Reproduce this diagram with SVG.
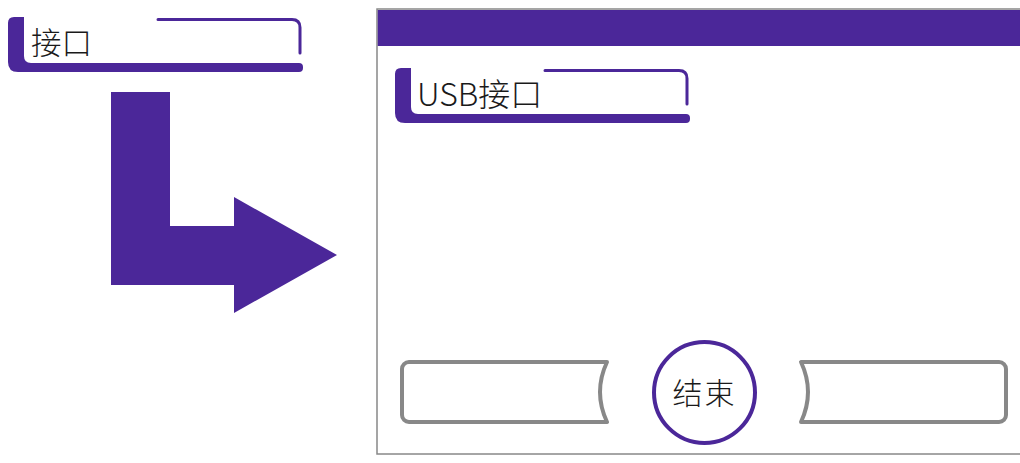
<svg xmlns="http://www.w3.org/2000/svg" width="1020" height="463" viewBox="0 0 1020 463">
<style>
.lab{font-family:"Noto Sans CJK SC","Noto Sans",sans-serif;font-size:30.5px;font-weight:300;fill:#1a1a1a}
.pf{fill:#4b2799}
.ps{fill:none;stroke:#4b2799;stroke-width:3;stroke-linecap:round}
.tab{fill:#fff;stroke:#888;stroke-width:4;stroke-linejoin:round}
</style>
<defs>
<g id="bracket">
<path class="pf" d="M14,17 H24 V56 Q24,63 31,63 H299 Q303,63 303,67 V68 Q303,72 299,72 H18 Q8,72 8,62 V23 Q8,17 14,17 Z"/>
<path class="ps" d="M158,19.5 H292 Q300,19.5 300,27.5 V53"/>
</g>
</defs>
<rect width="1020" height="463" fill="#fff"/>
<g id="panel">
<rect x="377" y="9" width="660" height="445" fill="#fff" stroke="#888" stroke-width="1.5"/>
<rect x="377.75" y="10" width="650" height="36" class="pf"/>
</g>
<g id="node-interface">
<use href="#bracket"/>
<text class="lab" x="31" y="53.5">接口</text>
</g>
<g id="connectors">
<polygon class="pf" points="111,92 170,92 170,226 234,226 234,197 337,255 234,313 234,285 111,285"/>
</g>
<g id="node-usb">
<use href="#bracket" transform="translate(387,51)"/>
<text class="lab" x="417" y="106" style="font-size:32px">USB接口</text>
</g>
<g id="node-left-tab">
<path class="tab" d="M409,362 H607 Q593,392 607,422 H409 A7,7 0 0 1 402,415 V369 A7,7 0 0 1 409,362 Z"/>
</g>
<g id="node-end">
<circle cx="704.5" cy="392.5" r="50.5" fill="#fff" stroke="#4b2799" stroke-width="4"/>
<text class="lab" x="704.5" y="404" text-anchor="middle" style="font-size:30px;letter-spacing:2px">结束</text>
</g>
<g id="node-right-tab">
<path class="tab" d="M801,362 H999 A7,7 0 0 1 1006,369 V415 A7,7 0 0 1 999,422 H801 Q815,392 801,362 Z"/>
</g>
</svg>
